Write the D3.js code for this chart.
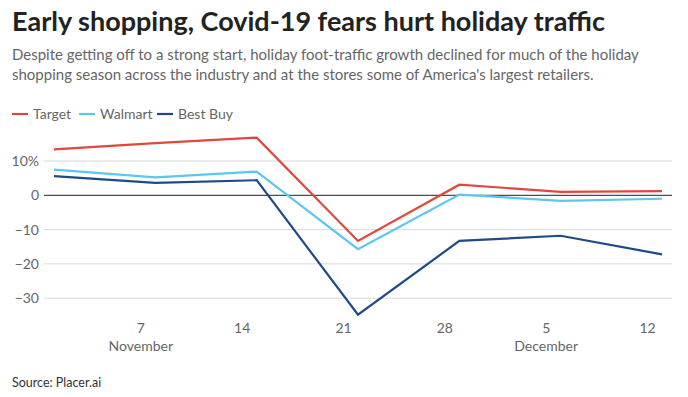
<!DOCTYPE html>
<html>
<head>
<meta charset="utf-8" />
<script src="https://d3js.org/d3.v7.min.js"></script>
<style>
  body { margin: 0; background: #fff; }
  svg { font-family: Lato, "Open Sans", sans-serif; }
</style>
</head>
<body>
<svg id="chart" width="688" height="397"></svg>
<script>
// weekly foot-traffic growth, % year over year
const weeks = ['2020-11-01', '2020-11-08', '2020-11-15', '2020-11-22', '2020-11-29', '2020-12-06', '2020-12-13'];
const target = [13.4, 15.2, 16.8, -13.3, 3.1, 1.0, 1.2];
const walmart = [7.5, 5.2, 6.9, -15.7, 0.2, -1.6, -1.0];
const bestBuy = [5.6, 3.6, 4.4, -34.8, -13.3, -11.8, -17.2];
const seriesNames = ['Target', 'Walmart', 'Best Buy'];
const seriesColors = ['#e0473d', '#5cc6f2', '#1e4a85'];
const yTicks = [10, 0, -10, -20, -30];
const xTickDates = ['2020-11-07', '2020-11-14', '2020-11-21', '2020-11-28', '2020-12-05', '2020-12-12'];
const monthLabels = [['2020-11-07', 'November'], ['2020-12-05', 'December']];

const parse = d3.timeParse('%Y-%m-%d');
const svg = d3.select('#chart');

const x = d3.scaleTime()
  .domain([parse(weeks[0]), parse(weeks[weeks.length - 1])])
  .range([54, 662]);
const y = d3.scaleLinear().domain([0, 10]).range([195.3, 161]);
const gridX0 = 44, gridX1 = 672;

// title + subtitle
svg.append('text').attr('x', 12).attr('y', 31)
  .attr('font-size', 27).attr('font-weight', 700).attr('fill', '#222')
  .text('Early shopping, Covid-19 fears hurt holiday traffic');
const sub = svg.append('text').attr('x', 12).attr('y', 60)
  .attr('font-size', 15).attr('fill', '#666');
sub.append('tspan').attr('x', 12).attr('dy', 0)
  .text('Despite getting off to a strong start, holiday foot-traffic growth declined for much of the holiday');
sub.append('tspan').attr('x', 12).attr('dy', 20)
  .text("shopping season across the industry and at the stores some of America's largest retailers.");

// legend
const legendX = [12, 79, 157];
const legend = svg.append('g');
seriesNames.forEach((name, i) => {
  legend.append('line')
    .attr('x1', legendX[i]).attr('x2', legendX[i] + 16)
    .attr('y1', 114).attr('y2', 114)
    .attr('stroke', seriesColors[i]).attr('stroke-width', 2.2);
  legend.append('text')
    .attr('x', legendX[i] + 21).attr('y', 119)
    .attr('font-size', 14).attr('fill', '#666')
    .text(name);
});

// y grid + labels
const grid = svg.append('g');
yTicks.forEach(t => {
  grid.append('line')
    .attr('x1', gridX0).attr('x2', gridX1)
    .attr('y1', y(t)).attr('y2', y(t))
    .attr('stroke', t === 0 ? '#222' : '#dadada')
    .attr('stroke-width', 1);
  grid.append('text')
    .attr('x', 39).attr('y', y(t) + 5)
    .attr('text-anchor', 'end')
    .attr('font-size', 14).attr('fill', '#666')
    .text(t === 10 ? '10%' : (t < 0 ? '\u2212' + Math.abs(t) : t));
});

// x axis labels
const xAxis = svg.append('g');
xTickDates.forEach(d => {
  xAxis.append('text')
    .attr('x', x(parse(d))).attr('y', 333)
    .attr('text-anchor', 'middle')
    .attr('font-size', 14).attr('fill', '#666')
    .text(+d.slice(8));
});
monthLabels.forEach(([d, label]) => {
  xAxis.append('text')
    .attr('x', x(parse(d))).attr('y', 351)
    .attr('text-anchor', 'middle')
    .attr('font-size', 14).attr('fill', '#666')
    .text(label);
});

// lines
const line = d3.line()
  .x((d, i) => x(parse(weeks[i])))
  .y(d => y(d));
[target, walmart, bestBuy].forEach((vals, i) => {
  svg.append('path')
    .datum(vals)
    .attr('d', line)
    .attr('fill', 'none')
    .attr('stroke', seriesColors[i])
    .attr('stroke-width', 2.2)
    .attr('stroke-linejoin', 'miter');
});

// source
svg.append('text').attr('x', 12).attr('y', 387)
  .attr('font-size', 12.5).attr('fill', '#333')
  .text('Source: Placer.ai');
</script>
</body>
</html>
